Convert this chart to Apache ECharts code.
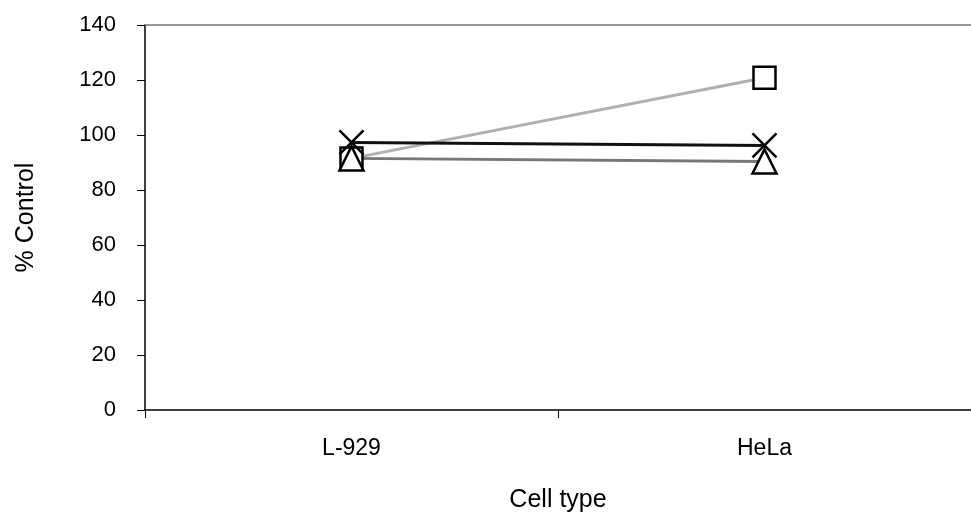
<!DOCTYPE html>
<html>
<head>
<meta charset="utf-8">
<script src="https://cdn.jsdelivr.net/npm/echarts@6/dist/echarts.min.js"></script>
<style>
  html, body { margin: 0; padding: 0; background: #fff; }
  #chart { width: 971px; height: 518px; }
</style>
</head>
<body>
<div id="chart"></div>
<script>
// data
const cellTypes = ['L-929', 'HeLa'];
const squareVals = [91.5, 120.8];
const crossVals = [97.3, 96.2];
const triangleVals = [91.5, 90.4];

const font = 'Liberation Sans, Arial, sans-serif';
const crossPath = 'path://M0,0L10,10M10,0L0,10';

const chart = echarts.init(document.getElementById('chart'));

function lineSeries(name, data, symbol, size, lineColor) {
  return {
    name: name,
    type: 'line',
    data: data,
    symbol: symbol,
    symbolSize: size,
    showAllSymbol: true,
    lineStyle: { color: lineColor, width: 3 },
    itemStyle: { color: symbol === crossPath ? 'none' : '#fff', borderColor: '#000', borderWidth: 2.5 },
    emphasis: { disabled: true },
    animation: false
  };
}

const option = {
  backgroundColor: '#fff',
  grid: { left: 145, right: 0, top: 25, bottom: 106 },
  xAxis: [{
    type: 'category',
    data: cellTypes,
    boundaryGap: true,
    name: 'Cell type',
    nameLocation: 'middle',
    nameGap: 78,
    nameTextStyle: { fontFamily: font, fontSize: 25, color: '#000' },
    axisLine: { lineStyle: { color: '#000', width: 1.5 } },
    axisTick: { show: true, length: 8, lineStyle: { color: '#000' } },
    axisLabel: { fontFamily: font, fontSize: 23, color: '#000', margin: 27 },
    splitLine: { show: false }
  }, {
    type: 'category',
    data: cellTypes,
    position: 'top',
    axisLine: { lineStyle: { color: '#777', width: 1.5 } },
    axisTick: { show: false },
    axisLabel: { show: false }
  }],
  yAxis: {
    type: 'value',
    min: 0,
    max: 140,
    interval: 20,
    name: '% Control',
    nameLocation: 'middle',
    nameGap: 106,
    nameRotate: 90,
    nameTextStyle: { fontFamily: font, fontSize: 25, color: '#000' },
    axisLine: { show: true, lineStyle: { color: '#000', width: 1.5 } },
    axisTick: { show: true, length: 8, lineStyle: { color: '#000' } },
    axisLabel: { fontFamily: font, fontSize: 22, color: '#000', margin: 29 },
    splitLine: { show: false }
  },
  series: [
    lineSeries('Square', squareVals, 'rect', 22, '#b0b0b0'),
    lineSeries('Triangle', triangleVals, 'triangle', 24, '#777777'),
    lineSeries('Cross', crossVals, crossPath, 24, '#111111')
  ]
};

chart.setOption(option);
</script>
</body>
</html>
